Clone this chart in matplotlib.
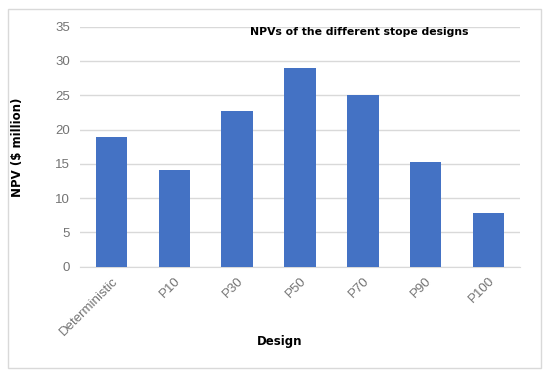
"""NPV bar chart of the stope designs."""

import matplotlib

matplotlib.use("Agg")
import matplotlib.pyplot as plt
from matplotlib.patches import Rectangle

designs = ["Deterministic", "P10", "P30", "P50", "P70", "P90", "P100"]
npv = [18.9, 14.1, 22.7, 29.0, 25.0, 15.2, 7.9]

plt.rcParams["font.family"] = ["Liberation Sans", "DejaVu Sans"]
heavy = "DejaVu Sans"

fig = plt.figure(figsize=(5.5, 3.77), dpi=100)
fig.patches.append(
    Rectangle((8 / 550, 1 - 368 / 377), 533 / 550, 359 / 377,
              transform=fig.transFigure, fill=False,
              edgecolor="#d9d9d9", linewidth=1.0)
)
ax = fig.add_axes([80 / 550, 1 - 266.7 / 377, 440 / 550, 240 / 377])

ax.bar(range(len(designs)), npv, width=0.5, color="#4472c4", zorder=3)
ax.set_xlim(-0.5, len(designs) - 0.5)
ax.set_ylim(0, 35)
ax.set_yticks(range(0, 36, 5))
ax.grid(axis="y", color="#d9d9d9", linewidth=1.0, zorder=0)
for side in ["top", "right", "left"]:
    ax.spines[side].set_visible(False)
ax.spines["bottom"].set_color("#d9d9d9")
ax.tick_params(length=0, colors="#737373", labelsize=9.5)
ax.tick_params(axis="y", pad=7)
ax.tick_params(axis="x", pad=6)
ax.set_xticks(range(len(designs)), designs, rotation=45, ha="right",
              rotation_mode="anchor")
fig.text(280 / 550, 1 - 342 / 377, "Design", family=heavy,
         fontweight="bold", fontsize=8.5, ha="center", va="center")
fig.text(18 / 550, 1 - 147 / 377, "NPV ($ million)", family=heavy,
         fontweight="bold", fontsize=8.5, rotation=90,
         ha="center", va="center")
fig.text(250 / 550, 1 - 32 / 377, "NPVs of the different stope designs",
         family=heavy, fontweight="bold", fontsize=7.8,
         va="center", ha="left")

fig.savefig("out.png", dpi=100)
plt.close(fig)
